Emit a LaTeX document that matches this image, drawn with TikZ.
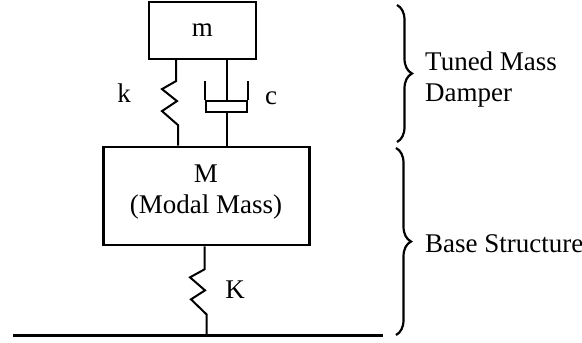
\documentclass[tikz,border=0pt]{standalone}
\usepackage{fontspec}
\setmainfont{Liberation Serif}
\usetikzlibrary{decorations.pathreplacing}
\tikzset{every node/.append style={font=\fontsize{27}{31}\selectfont,inner sep=0pt}}
\tikzset{mass/.style={draw,line width=2.2pt,align=center}}
\tikzset{wire/.style={line width=2pt,line join=miter}}
\tikzset{bracket/.style={line width=2.2pt,decorate,decoration={brace,amplitude=15pt}}}

\begin{document}
\begin{tikzpicture}[x=1pt,y=-1pt]
	\useasboundingbox (0,0) rectangle (582,343);
	% masses
	\node[mass,minimum width=107pt,minimum height=57pt] (tmd) at (202.5,30.5) {m};
	\node[mass,minimum width=206pt,minimum height=98.5pt] (base) at (206.5,196) {};
	\node[align=center] (baselabel) at (206,192.5) {M\\(Modal Mass)};
	\coordinate (gleft) at (13,335.5);
	\coordinate (gright) at (383,335.5);
	\draw[line width=3.4pt] (gleft) -- (gright);
	% springs
	\coordinate (ktop) at (tmd.south -| 176,0);
	\coordinate (kbot) at (base.north -| 178,0);
	\draw[wire] (ktop) -- ++(0,21) -- ++(-14,8) -- ++(15,12) -- ++(-15,10) -- ++(16,14) -- (kbot);
	\coordinate (Ktop) at (base.south -| 204.5,0);
	\coordinate (Kbot) at (gleft -| 206.5,0);
	\draw[wire] (Ktop) -- ++(0,23) -- ++(-14.5,8) -- ++(15,13) -- ++(-14,9) -- ++(15.5,15) -- (Kbot);
	% damper
	\node[draw,line width=2pt,minimum width=41pt,minimum height=10.5pt] (piston) at (226.5,106.5) {};
	\coordinate (ctop) at (tmd.south -| piston.north);
	\coordinate (cbot) at (base.north -| piston.south);
	\draw[wire] (ctop) -- (piston.north);
	\draw[wire] (piston.south) -- (cbot);
	\draw[wire] (piston.north west) -- ++(0,-19);
	\draw[wire] (piston.north east) -- ++(0,-19);
	% labels
	\node (klabel) at (124,93) {k};
	\node (clabel) at (271,98) {c};
	\node (Klabel) at (235,290) {K};
	% braces
	\coordinate (ua) at (397,5);
	\coordinate (ub) at (397,142);
	\coordinate (la) at (396,148);
	\coordinate (lb) at (396,335);
	\draw[bracket] (ua) -- (ub);
	\draw[bracket] (la) -- (lb);
	\node[anchor=base west,align=left] (tuned) at (425,101) {Tuned Mass\\Damper};
	\node[anchor=base west] (struct) at (425,252) {Base Structure};
\end{tikzpicture}
\end{document}
